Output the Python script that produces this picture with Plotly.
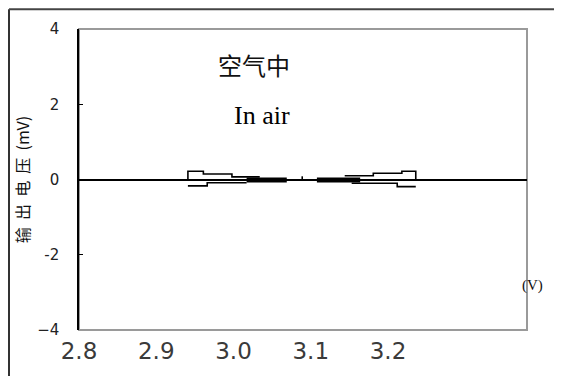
import plotly.graph_objects as go

# x tick labels (V) and y ticks (mV)
x_ticks = [2.8, 2.9, 3.0, 3.1, 3.2]
x_tick_text = ["2.8", "2.9", "3.0", "3.1", "3.2"]
y_ticks = [4, 2, 0, -2, -4]
y_tick_text = ["4", "2", "0", "-2", "\u22124"]

# butterfly loop, drawn as step lines
left_upper_v = [2.941, 2.941, 2.961, 2.998, 3.034]
left_upper_mv = [0.0, 0.22, 0.145, 0.07, 0.07]
left_lower_v = [2.941, 2.966, 3.017]
left_lower_mv = [-0.17, -0.085, -0.085]
left_core_v = [3.017, 3.069]
left_core_mv = [-0.012, -0.012]

right_upper_v = [3.236, 3.236, 3.218, 3.181, 3.144]
right_upper_mv = [0.0, 0.22, 0.165, 0.10, 0.10]
right_lower_v = [3.236, 3.212, 3.153]
right_lower_mv = [-0.19, -0.10, -0.10]
right_core_v = [3.108, 3.164]
right_core_mv = [-0.012, -0.012]

center_v = [3.089, 3.089]
center_mv = [0.0, 0.085]

fig = go.Figure()

thin = [
    (left_upper_v, left_upper_mv), (left_lower_v, left_lower_mv),
    (right_upper_v, right_upper_mv), (right_lower_v, right_lower_mv),
    (center_v, center_mv),
]
for xs, ys in thin:
    fig.add_trace(go.Scatter(x=xs, y=ys, mode="lines",
                             line=dict(color="black", width=1.6, shape="hv"),
                             showlegend=False, hoverinfo="skip"))

for xs, ys in [(left_core_v, left_core_mv), (right_core_v, right_core_mv)]:
    fig.add_trace(go.Scatter(x=xs, y=ys, mode="lines",
                             line=dict(color="black", width=5),
                             showlegend=False, hoverinfo="skip"))

# the page body has an 8px margin, so work in figure pixels (page - 8)
W, H = 554, 368
L, R, T, B = 71, 519, 21, 324
def px(x):
    return (x - L) / (R - L)
def py(y):
    return (B - y) / (B - T)

sp = "\u00a0\u00a0"
fig.update_layout(
    width=W, height=H,
    margin=dict(l=L, r=W - R, t=T, b=H - B),
    paper_bgcolor="white", plot_bgcolor="white",
    font=dict(family="DejaVu Sans", color="black"),
    xaxis=dict(
        range=[2.8, 3.38], tickvals=x_ticks, ticktext=x_tick_text,
        showgrid=False, zeroline=False, showline=False, ticks="",
        tickfont=dict(size=23, family="DejaVu Sans", color="#3a3a3a"),
        ticklabelstandoff=5,
    ),
    yaxis=dict(
        range=[-4, 4], tickvals=y_ticks, ticktext=y_tick_text,
        showgrid=False, zeroline=True, zerolinecolor="black", zerolinewidth=1.6,
        showline=True, linecolor="black", linewidth=1.5,
        ticks="inside", ticklen=4, tickcolor="black",
        tickfont=dict(size=15, family="DejaVu Sans", color="#222"),
        ticklabelstandoff=15,
        title=dict(text=sp.join(["输", "出", "电", "压", "(mV)"]), standoff=4,
                   font=dict(size=16, family="Noto Sans CJK SC", color="#111")),
    ),
    shapes=[
        # gray plot frame
        dict(type="rect", xref="paper", yref="paper", x0=0, x1=1, y0=0, y1=1,
             line=dict(color="#9a9a9a", width=2), layer="below"),
        # outer picture frame
        dict(type="line", xref="paper", yref="paper", x0=px(1), x1=px(1),
             y0=py(1), y1=py(H + 4), line=dict(color="#333", width=2)),
        dict(type="line", xref="paper", yref="paper", x0=px(1), x1=px(W + 4),
             y0=py(1), y1=py(1), line=dict(color="#444", width=2)),
        dict(type="line", xref="paper", yref="paper", x0=px(550), x1=px(550),
             y0=py(1), y1=py(H + 4), line=dict(color="#e4e4e4", width=1)),
    ],
    annotations=[
        dict(x=3.027, y=3.05, xref="x", yref="y", text="空气中", showarrow=False,
             font=dict(size=24, family="Noto Sans CJK SC", color="#111")),
        dict(x=3.037, y=1.70, xref="x", yref="y", text="In air", showarrow=False,
             font=dict(size=26, family="Liberation Serif", color="black")),
        dict(x=px(537), y=py(290), xref="paper", yref="paper", text="(V)",
             showarrow=False,
             font=dict(size=15, family="Liberation Serif", color="#111")),
    ],
)

fig.write_html("out.html")
